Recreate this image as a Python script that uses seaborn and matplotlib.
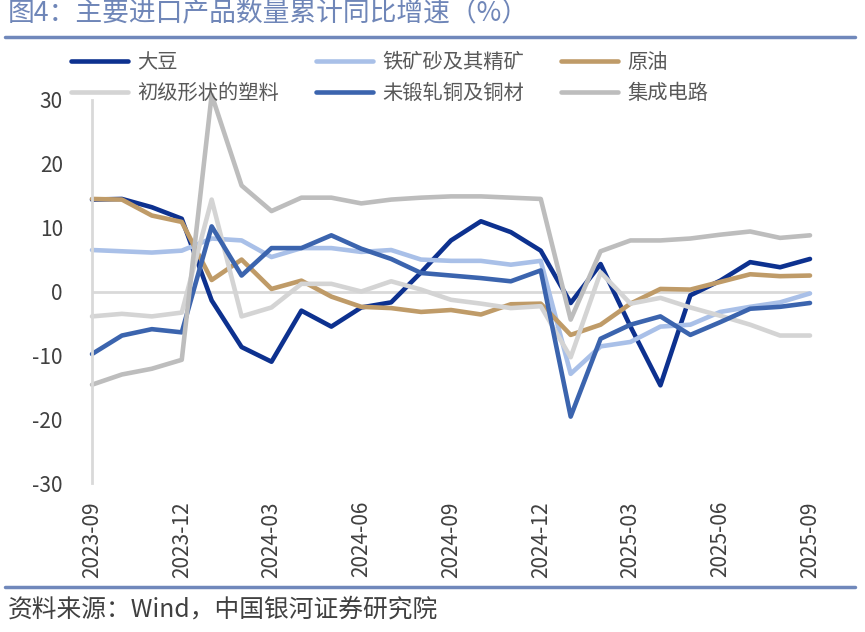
import numpy as np
import pandas as pd
import matplotlib
matplotlib.use("Agg")
import matplotlib.pyplot as plt
from matplotlib.lines import Line2D
import seaborn as sns

# months 2023-09 .. 2025-09
months = pd.period_range("2023-09", "2025-09", freq="M").strftime("%Y-%m").tolist()

soybean = [14.4, 14.5, 13.2, 11.4, -1.4, -8.7, -11.0, -3.0, -5.5, -2.5, -1.7, 3.0, 8.0,
           11.0, 9.3, 6.4, -1.8, 4.3, -5.5, -14.7, -0.6, 1.7, 4.6, 3.8, 5.1]
iron_ore = [6.5, 6.3, 6.1, 6.4, 8.3, 8.0, 5.4, 6.8, 6.8, 6.2, 6.5, 5.0, 4.8,
            4.8, 4.2, 4.8, -12.9, -8.6, -7.9, -5.5, -5.2, -3.2, -2.4, -1.7, -0.3]
crude_oil = [14.5, 14.4, 11.9, 10.9, 1.8, 5.0, 0.4, 1.7, -0.8, -2.4, -2.6, -3.2, -2.9,
             -3.6, -2.0, -1.9, -6.8, -5.2, -1.9, 0.4, 0.3, 1.5, 2.7, 2.4, 2.5]
plastics = [-3.9, -3.5, -3.9, -3.3, 14.4, -3.9, -2.5, 1.2, 1.2, 0.0, 1.6, 0.3, -1.3,
            -1.9, -2.6, -2.3, -10.3, 3.0, -1.9, -1.0, -2.5, -3.8, -5.2, -6.9, -6.9]
copper = [-9.8, -6.9, -5.9, -6.4, 10.2, 2.5, 6.8, 6.8, 8.8, 6.7, 5.1, 2.9, 2.5,
          2.1, 1.6, 3.3, -19.6, -7.4, -5.2, -3.9, -6.8, -4.8, -2.7, -2.4, -1.8]
chips = [-14.6, -13.0, -12.1, -10.7, 30.8, 16.6, 12.6, 14.7, 14.7, 13.8, 14.4, 14.7, 14.9,
         14.9, 14.7, 14.5, -4.4, 6.3, 8.0, 8.0, 8.3, 8.9, 9.4, 8.4, 8.8]

series_names = ["大豆", "铁矿砂及其精矿", "原油", "初级形状的塑料", "未锻轧铜及铜材", "集成电路"]
series_values = [soybean, iron_ore, crude_oil, plastics, copper, chips]
colors = ["#0d318f", "#a9c0e8", "#bf9b68", "#d4d4d4", "#3b64ae", "#bdbdbd"]

frames = []
for name, vals in zip(series_names, series_values):
    frames.append(pd.DataFrame({"idx": np.arange(len(months)), "value": vals, "series": name}))
df = pd.concat(frames, ignore_index=True)

sns.set_style("white")
plt.rcParams["font.family"] = ["Noto Sans CJK SC", "DejaVu Sans"]
plt.rcParams["axes.unicode_minus"] = False

fig = plt.figure(figsize=(8.65, 6.32), dpi=100)
ax = fig.add_axes([92 / 865, 1 - 483 / 632, (810 - 92) / 865, (483 - 100) / 632])

ax.axhline(0, color="#d9d9d9", lw=2, zorder=0)
sns.lineplot(data=df, x="idx", y="value", hue="series", hue_order=series_names,
             palette=colors, lw=3.3, sort=False, legend=False, ax=ax, clip_on=False)

ax.set_xlim(0, len(months) - 1)
ax.set_ylim(-30, 30)
ax.set_yticks(range(-30, 31, 10))
tick_pos = list(range(0, len(months), 3))
ax.set_xticks(tick_pos)
ax.set_xticklabels([months[i] for i in tick_pos], rotation=90)
ax.tick_params(axis="y", length=0, pad=21, labelsize=15, labelcolor="#404040")
ax.tick_params(axis="x", length=0, pad=13, labelsize=15, labelcolor="#404040")
ax.set_xlabel("")
ax.set_ylabel("")
for side in ["top", "right", "bottom"]:
    ax.spines[side].set_visible(False)
ax.spines["left"].set_color("#d9d9d9")
ax.spines["left"].set_linewidth(2)

# legend: Excel style, three per row
handles = [Line2D([0], [0], color=c, lw=3.3) for c in colors]
order = [0, 3, 1, 4, 2, 5]
fig.legend([handles[i] for i in order], [series_names[i] for i in order],
           ncol=3, loc="upper left", bbox_to_anchor=(63 / 865, 1 - 44 / 632),
           frameon=False, fontsize=14.6, labelcolor="#595959",
           handlelength=2.8, handletextpad=0.45, columnspacing=1.85,
           labelspacing=0.5, borderaxespad=0)

# title, rules, source
fig.text(8 / 865, 1 - 14 / 632, "图4：主要进口产品数量累计同比增速（%）", fontsize=19.3,
         color="#6f86b8", va="center", ha="left")
fig.add_artist(Line2D([5 / 865, 855 / 865], [1 - 37 / 632] * 2, color="#7088bb", lw=2.5))
fig.add_artist(Line2D([5 / 865, 855 / 865], [1 - 587 / 632] * 2, color="#7088bb", lw=2.5))
fig.text(8 / 865, 1 - 610 / 632, "资料来源：Wind，中国银河证券研究院", fontsize=17.8,
         color="#404040", va="center", ha="left", style="italic")

fig.savefig("out.png", dpi=100)
